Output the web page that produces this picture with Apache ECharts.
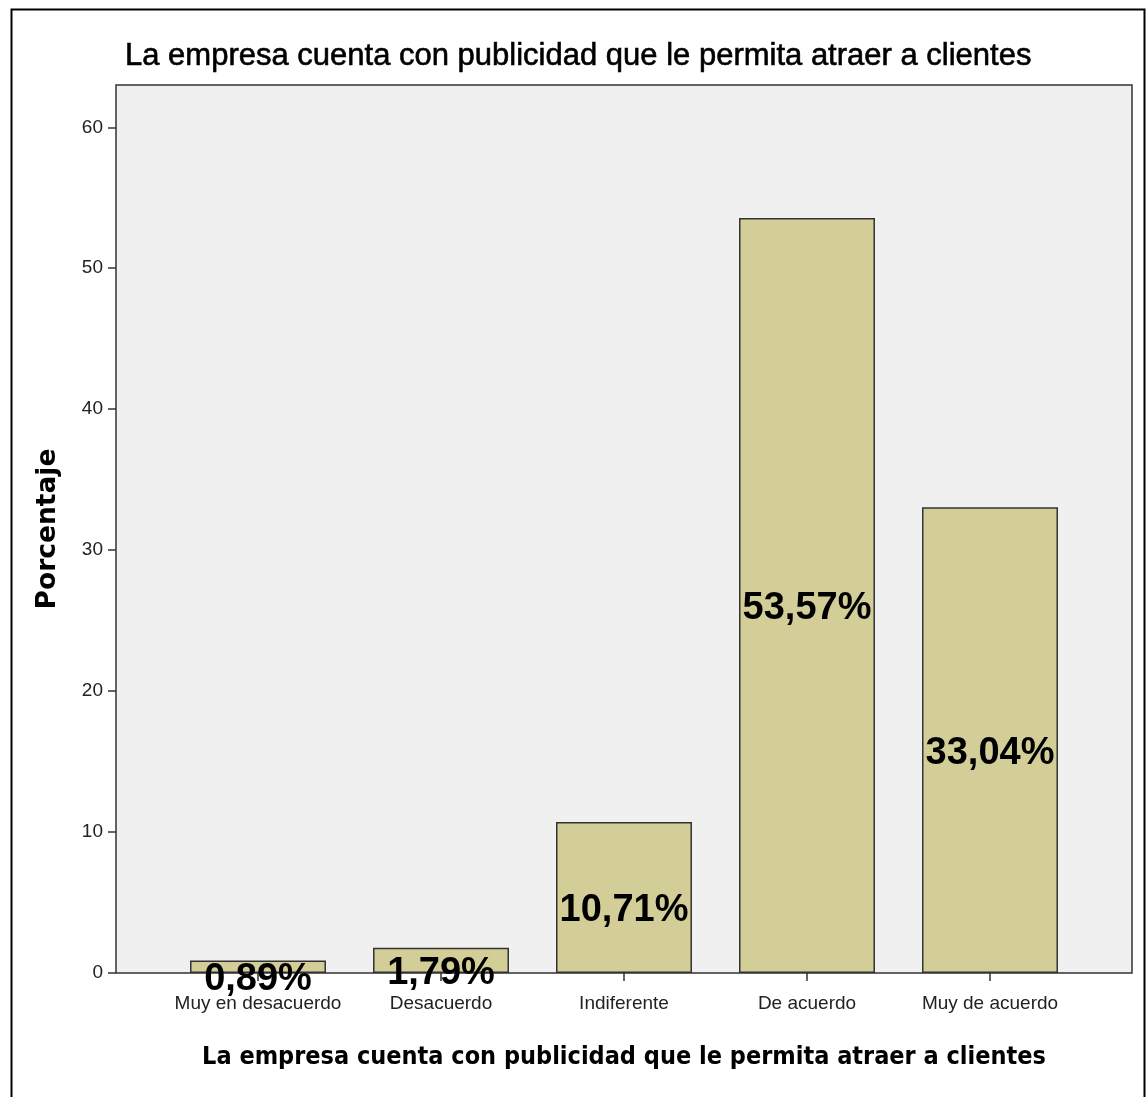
<!DOCTYPE html>
<html>
<head>
<meta charset="utf-8">
<script src="https://cdn.jsdelivr.net/npm/echarts@6/dist/echarts.min.js"></script>
<style>
html,body{margin:0;padding:0;background:#fff;}
#c{width:1146px;height:1097px;}
</style>
</head>
<body>
<div id="c"></div>
<script>
const categories = ["Muy en desacuerdo", "Desacuerdo", "Indiferente", "De acuerdo", "Muy de acuerdo"];
const values = [0.89, 1.79, 10.71, 53.57, 33.04];
const yTicks = [0, 10, 20, 30, 40, 50, 60];
const titleText = "La empresa cuenta con publicidad que le permita atraer a clientes";
const yName = "Porcentaje";

const SANS = "'Liberation Sans', Arial, sans-serif";
const chart = echarts.init(document.getElementById('c'), null, {renderer: 'canvas'});
chart.setOption({
  animation: false,
  backgroundColor: '#fff',
  graphic: [{
    type: 'rect', left: 9, top: 7,
    shape: {width: 1133, height: 1100},
    style: {fill: 'none', stroke: '#000', lineWidth: 2}, z: 100
  }],
  title: {
    text: titleText, left: 125, top: 41, padding: 0,
    textStyle: {fontFamily: SANS, fontSize: 31, fontWeight: 'normal', color: '#000',
      textBorderColor: '#000', textBorderWidth: 0.6}
  },
  grid: [
    {left: 116, top: 85, width: 1016, height: 888, show: true, backgroundColor: '#f0f0f0', borderColor: '#333', borderWidth: 1.5, z: 0},
    {left: 166.5, top: 85, width: 915, height: 888, show: false}
  ],
  xAxis: [
    {gridIndex: 0, type: 'value', show: false, min: 0, max: 1},
    {gridIndex: 1, type: 'category', data: categories, boundaryGap: true,
     axisLine: {show: false},
     axisTick: {show: true, alignWithLabel: true, length: 8, lineStyle: {color: '#333', width: 1.5}},
     axisLabel: {fontFamily: SANS, fontSize: 19, color: '#222', margin: 21, interval: 0},
     name: titleText, nameLocation: 'middle', nameGap: 72,
     nameTextStyle: {fontFamily: "'DejaVu Sans Condensed', 'DejaVu Sans', sans-serif", fontWeight: 'bold', fontSize: 25, color: '#000'}
    }
  ],
  yAxis: [
    {gridIndex: 0, type: 'value', show: false, min: 0, max: 1},
    {gridIndex: 1, type: 'value', min: 0, max: 63, interval: 10, offset: 50.5,
     splitLine: {show: false},
     axisLine: {show: false},
     axisTick: {show: true, length: 8, lineStyle: {color: '#333', width: 1.5}},
     axisLabel: {fontFamily: SANS, fontSize: 19, color: '#222', margin: 13, showMaxLabel: false,
       formatter: v => (yTicks.indexOf(v) >= 0 ? String(v) : '')},
     name: yName, nameLocation: 'middle', nameGap: 54,
     nameTextStyle: {fontFamily: "'DejaVu Sans', sans-serif", fontWeight: 'bold', fontSize: 26.5, color: '#000'}
    }
  ],
  series: [{
    type: 'bar', xAxisIndex: 1, yAxisIndex: 1, data: values,
    barCategoryGap: '25.7%',
    itemStyle: {color: '#d3ce97', borderColor: '#333', borderWidth: 1.5},
    label: {show: true, position: 'inside', offset: [0, 13],
      fontFamily: SANS, fontWeight: 'bold', fontSize: 38, color: '#000',
      formatter: p => p.value.toFixed(2).replace('.', ',') + '%'}
  }]
});
</script>
</body>
</html>
